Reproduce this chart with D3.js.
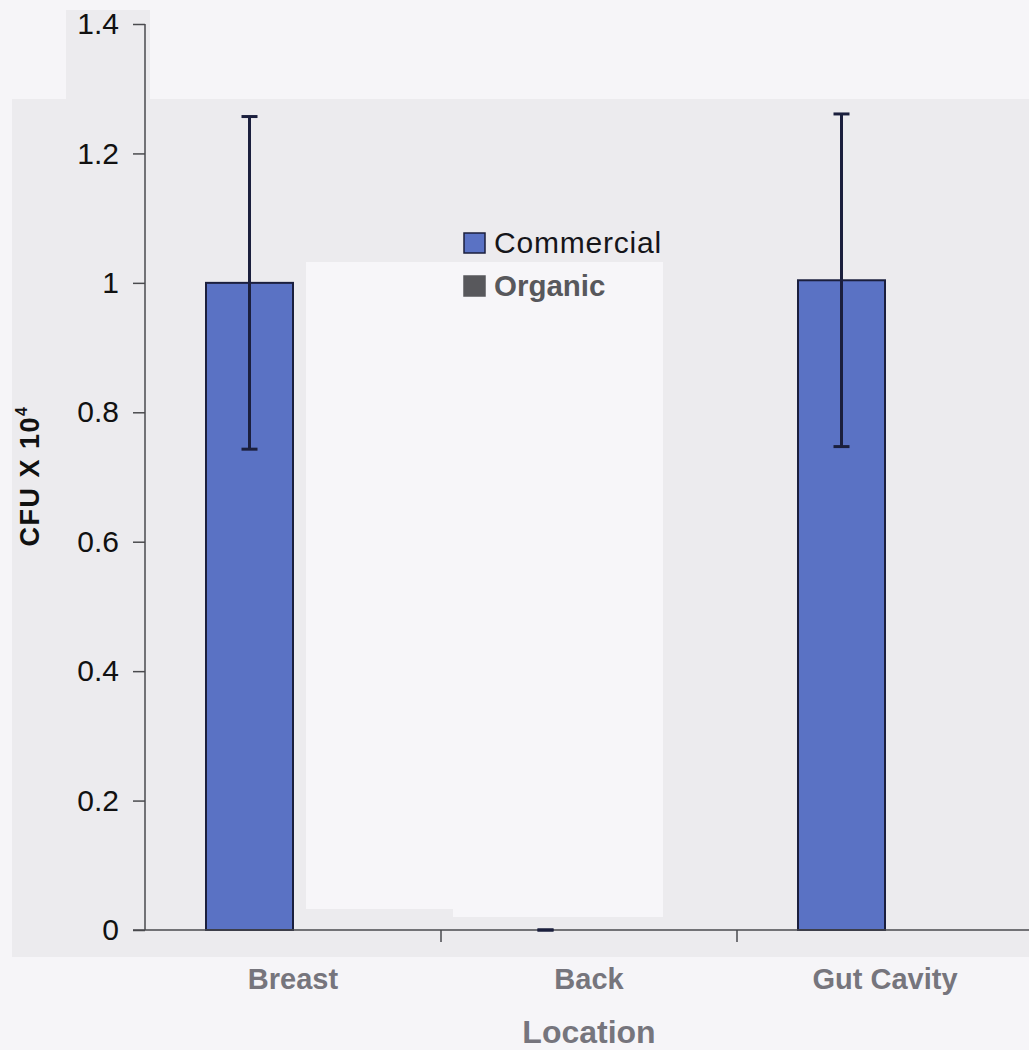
<!DOCTYPE html>
<html>
<head>
<meta charset="utf-8">
<script src="https://cdn.jsdelivr.net/npm/d3@7"></script>
<style>
  html, body { margin: 0; padding: 0; background: #f6f5f8; }
  svg { display: block; }
</style>
</head>
<body>
<svg id="chart" width="1029" height="1050"></svg>
<script>
// ---- data ----
const categories = ["Breast", "Back", "Gut Cavity"];
const seriesNames = ["Commercial", "Organic"];
const commercialValues = [1.0, 0.0, 1.004];
const organicValues = [0.0, 0.0, 0.0];
const commercialErrors = [0.257, 0.0, 0.257];
const yTicks = [0, 0.2, 0.4, 0.6, 0.8, 1, 1.2, 1.4];
const yTitle = "CFU X 10";
const yTitleSup = "4";
const xTitle = "Location";

const svg = d3.select("#chart");
const W = 1029, H = 1050;
const colors = { Commercial: "#5a72c4", Organic: "#58585c" };
const FONT = "Arial, 'Liberation Sans', sans-serif";

// scanned-page background patches
svg.append("rect").attr("x", 0).attr("y", 0).attr("width", W).attr("height", H).attr("fill", "#f6f5f8");
svg.append("rect").attr("x", 12).attr("y", 99).attr("width", W - 12).attr("height", 858).attr("fill", "#ecebee");
svg.append("rect").attr("x", 66).attr("y", 10).attr("width", 84).attr("height", 90).attr("fill", "#ecebee");

// scales
const y = d3.scaleLinear().domain([0, 1.4]).range([930, 24]);
const x0 = d3.scaleBand().domain(categories).range([145, 145 + 296 * 3]).paddingInner(0).paddingOuter(0);
const x1 = d3.scaleBand().domain(seriesNames).range([61, 235]).padding(0);

// white patch (erased area in scan)
svg.append("rect").attr("x", 306).attr("y", 262).attr("width", 147).attr("height", 647).attr("fill", "#f7f6f9");
svg.append("rect").attr("x", 453).attr("y", 262).attr("width", 210).attr("height", 655).attr("fill", "#f7f6f9");

// bars
const rows = categories.map((c, i) => ({ cat: c, Commercial: commercialValues[i], Organic: organicValues[i], err: commercialErrors[i] }));
const g = svg.append("g");
rows.forEach(r => {
  seriesNames.forEach(s => {
    if (r[s] > 0) {
      g.append("rect")
        .attr("x", x0(r.cat) + x1(s))
        .attr("y", y(r[s]))
        .attr("width", x1.bandwidth())
        .attr("height", y(0) - y(r[s]))
        .attr("fill", colors[s])
        .attr("stroke", "#1b1f3d")
        .attr("stroke-width", 2);
    }
  });
});

// axes
const yAxis = d3.axisLeft(y).tickValues(yTicks).tickSize(12).tickPadding(14)
  .tickFormat(d => d === 0 ? "0" : d3.format("~g")(d));
const ya = svg.append("g").attr("transform", "translate(145,0)").call(yAxis);
ya.select(".domain").attr("stroke", "#4a4a4e").attr("stroke-width", 1.5).attr("d", `M0,${y(1.4)}V${y(0)}`);
ya.selectAll(".tick line").attr("stroke", "#4a4a4e").attr("stroke-width", 1.5);
ya.selectAll(".tick text").attr("fill", "#111").style("font-family", FONT).style("font-size", "30px");

const xAxis = d3.axisBottom(x0).tickSize(0).tickFormat("");
const xa = svg.append("g").attr("transform", "translate(0,930)").call(xAxis);
xa.select(".domain").remove();
svg.append("line").attr("x1", 133).attr("x2", W).attr("y1", 930).attr("y2", 930).attr("stroke", "#4a4a4e").attr("stroke-width", 1.5);
// category boundary ticks
categories.forEach((c, i) => {
  if (i === 0) return;
  svg.append("line").attr("x1", x0(c)).attr("x2", x0(c)).attr("y1", 930).attr("y2", 942).attr("stroke", "#4a4a4e").attr("stroke-width", 1.5);
});

// error bars (commercial)
rows.forEach(r => {
  const cx = x0(r.cat) + x1("Commercial") + x1.bandwidth() / 2;
  const yt = y(r.Commercial + r.err), yb = y(Math.max(0, r.Commercial - r.err));
  const eg = svg.append("g").attr("stroke", "#1b1f3d").attr("stroke-width", 3);
  eg.append("line").attr("x1", cx).attr("x2", cx).attr("y1", yt).attr("y2", yb);
  eg.append("line").attr("x1", cx - 8).attr("x2", cx + 8).attr("y1", yt).attr("y2", yt);
  eg.append("line").attr("x1", cx - 8).attr("x2", cx + 8).attr("y1", yb).attr("y2", yb);
});

// category labels
categories.forEach(c => {
  svg.append("text")
    .attr("x", x0(c) + x0.bandwidth() / 2)
    .attr("y", 989)
    .attr("text-anchor", "middle")
    .attr("fill", "#76757d")
    .style("font-family", FONT)
    .style("font-weight", "bold")
    .style("font-size", "29px")
    .text(c);
});

// x title
svg.append("text")
  .attr("x", 589).attr("y", 1043)
  .attr("text-anchor", "middle")
  .attr("fill", "#76757d")
  .style("font-family", FONT)
  .style("font-weight", "bold")
  .style("font-size", "32px")
  .text(xTitle);

// y title
const ytl = svg.append("text")
  .attr("transform", "translate(39,476) rotate(-90)")
  .attr("text-anchor", "middle")
  .attr("fill", "#111")
  .style("font-family", FONT)
  .style("font-weight", "bold")
  .style("font-size", "27px")
  .style("letter-spacing", "1.5px");
ytl.append("tspan").text(yTitle);
ytl.append("tspan").attr("dy", -12).style("font-size", "16px").text(yTitleSup);

// legend
const legend = svg.append("g");
seriesNames.forEach((s, i) => {
  const ly = 233 + i * 43;
  legend.append("rect")
    .attr("x", 464).attr("y", ly).attr("width", 21).attr("height", 20)
    .attr("fill", colors[s])
    .attr("stroke", s === "Commercial" ? "#1b1f3d" : colors[s])
    .attr("stroke-width", 1.5);
  legend.append("text")
    .attr("x", 494).attr("y", ly + 20)
    .attr("fill", s === "Commercial" ? "#15151a" : "#58585c")
    .style("font-family", FONT)
    .style("font-size", s === "Commercial" ? "30px" : "29.5px")
    .style("letter-spacing", s === "Commercial" ? "0.8px" : "0px")
    .style("font-weight", s === "Organic" ? "bold" : "normal")
    .text(s);
});
</script>
</body>
</html>
